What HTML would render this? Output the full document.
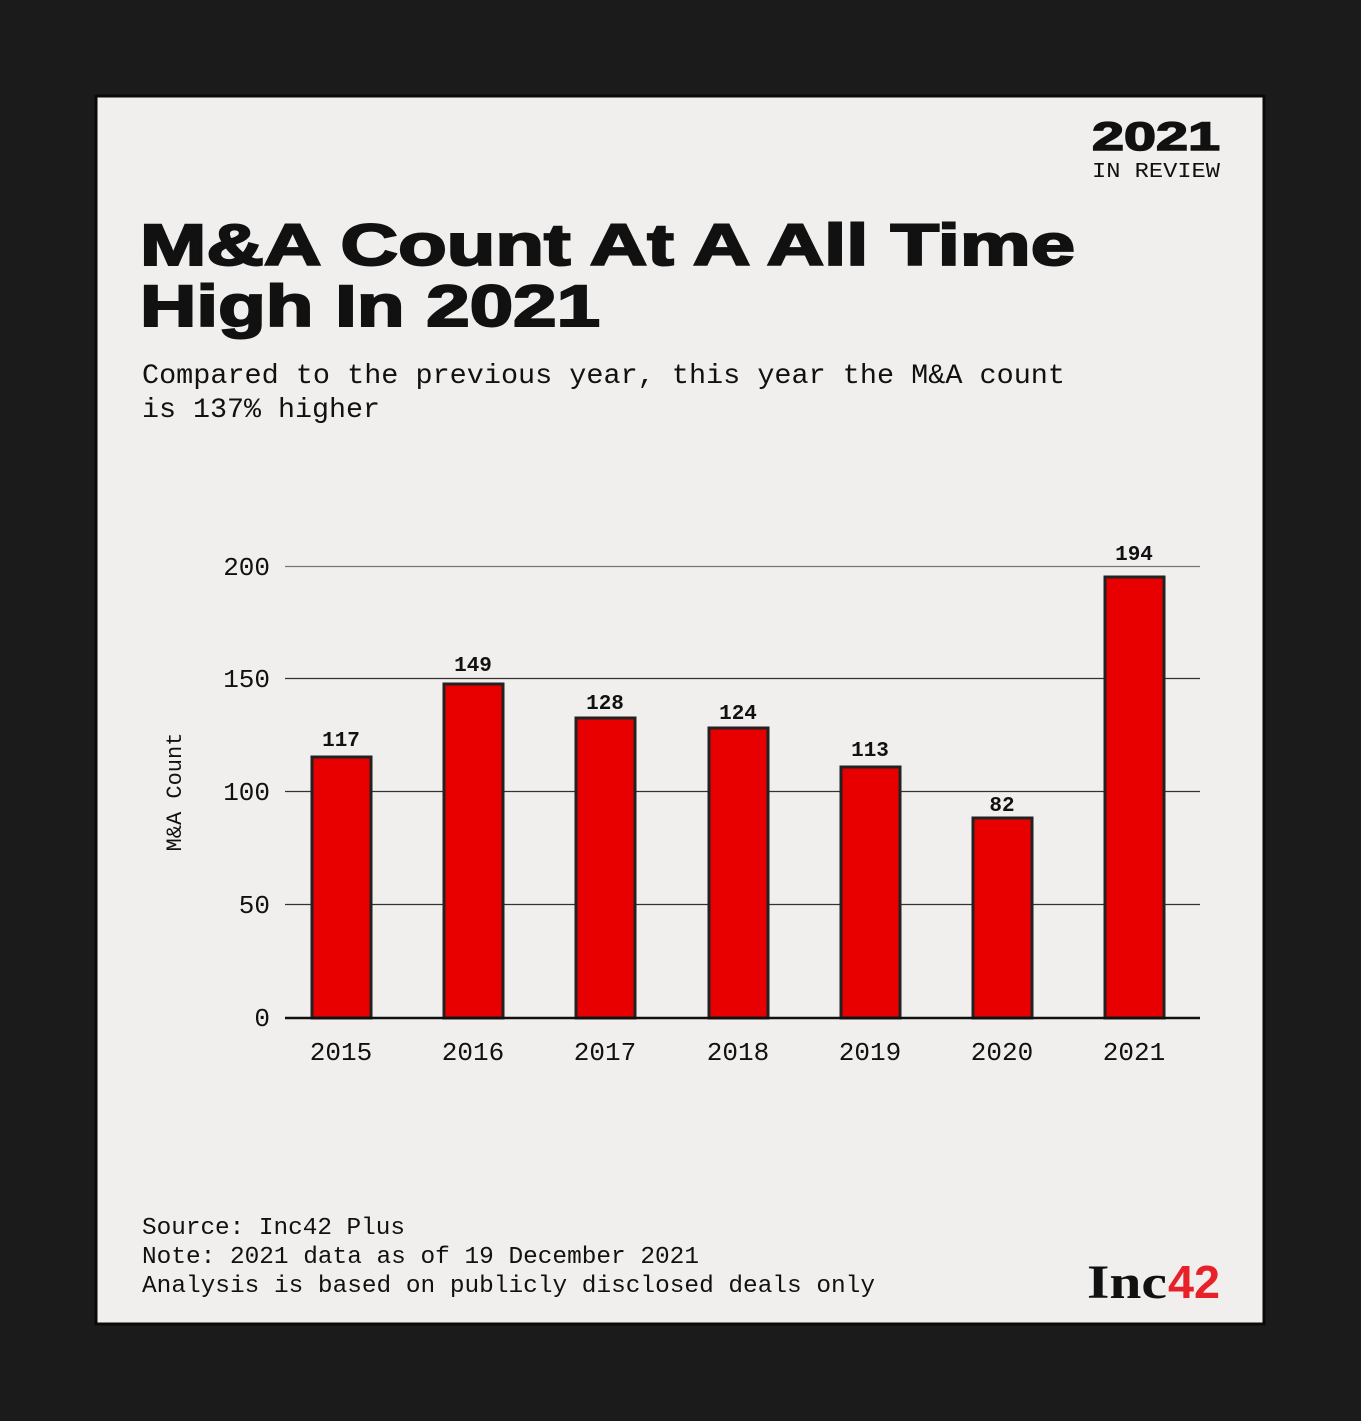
<!DOCTYPE html>
<html><head><style>html,body{margin:0;padding:0;background:#1b1b1b;}svg{display:block}</style></head>
<body>
<svg width="1361" height="1421" xmlns="http://www.w3.org/2000/svg">
<rect width="1361" height="1421" fill="#1b1b1b"/>
<rect x="96" y="96" width="1168" height="1228" fill="#f0efee" stroke="#0a0a0a" stroke-width="3"/>
<g font-family="Liberation Sans, sans-serif" font-weight="bold" fill="#111">
<text x="1092" y="150" font-size="40" textLength="128" lengthAdjust="spacingAndGlyphs" stroke="#111" stroke-width="1.5">2021</text>
<text x="140" y="265" font-size="58" textLength="935" lengthAdjust="spacingAndGlyphs" stroke="#111" stroke-width="2">M&amp;A Count At A All Time</text>
<text x="140" y="326" font-size="58" textLength="460" lengthAdjust="spacingAndGlyphs" stroke="#111" stroke-width="2">High In 2021</text>
</g>
<g font-family="Liberation Mono, monospace" fill="#111">
<text x="1092" y="177" font-size="21" textLength="128" lengthAdjust="spacingAndGlyphs">IN REVIEW</text>
<text x="142" y="383" font-size="28" textLength="923" lengthAdjust="spacingAndGlyphs">Compared to the previous year, this year the M&amp;A count</text>
<text x="142" y="417" font-size="28" textLength="238" lengthAdjust="spacingAndGlyphs">is 137% higher</text>
<text x="142" y="1234" font-size="24" textLength="263" lengthAdjust="spacingAndGlyphs">Source: Inc42 Plus</text>
<text x="142" y="1263" font-size="24" textLength="557" lengthAdjust="spacingAndGlyphs">Note: 2021 data as of 19 December 2021</text>
<text x="142" y="1292" font-size="24" textLength="733" lengthAdjust="spacingAndGlyphs">Analysis is based on publicly disclosed deals only</text>
</g>
<g stroke="#333" stroke-width="1.2">
<line x1="285" y1="566.5" x2="1200" y2="566.5" stroke="#777"/>
<line x1="285" y1="678.5" x2="1200" y2="678.5"/>
<line x1="285" y1="791.5" x2="1200" y2="791.5"/>
<line x1="285" y1="904.5" x2="1200" y2="904.5"/>
</g>
<g font-family="Liberation Mono, monospace" font-size="26" fill="#111" text-anchor="end">
<text x="270" y="575">200</text><text x="270" y="687">150</text><text x="270" y="800">100</text><text x="270" y="913">50</text><text x="270" y="1026">0</text>
</g>
<text transform="translate(181,792) rotate(-90)" font-family="Liberation Mono, monospace" font-size="22" fill="#111" text-anchor="middle">M&amp;A Count</text>
<g fill="#e80000" stroke="#222" stroke-width="3">
<rect x="312" y="757" width="59" height="261"/>
<rect x="444" y="684" width="59" height="334"/>
<rect x="576" y="718" width="59" height="300"/>
<rect x="709" y="728" width="59" height="290"/>
<rect x="841" y="767" width="59" height="251"/>
<rect x="973" y="818" width="59" height="200"/>
<rect x="1105" y="577" width="59" height="441"/>
</g>
<line x1="285" y1="1018" x2="1200" y2="1018" stroke="#111" stroke-width="2.5"/>
<g font-family="Liberation Mono, monospace" font-size="21" font-weight="bold" fill="#111" text-anchor="middle">
<text x="341" y="746">117</text><text x="473" y="671">149</text><text x="605" y="709">128</text><text x="738" y="719">124</text><text x="870" y="756">113</text><text x="1002" y="811">82</text><text x="1134" y="560">194</text>
</g>
<g font-family="Liberation Mono, monospace" font-size="26" fill="#111" text-anchor="middle">
<text x="341" y="1060">2015</text><text x="473" y="1060">2016</text><text x="605" y="1060">2017</text><text x="738" y="1060">2018</text><text x="870" y="1060">2019</text><text x="1002" y="1060">2020</text><text x="1134" y="1060">2021</text>
</g>
<text x="1087" y="1298" font-family="Liberation Serif, serif" font-weight="bold" font-size="48" fill="#111" textLength="80" lengthAdjust="spacingAndGlyphs">Inc</text>
<text x="1168" y="1298" font-family="Liberation Sans, sans-serif" font-weight="bold" font-size="46" fill="#e8202a" textLength="52" lengthAdjust="spacingAndGlyphs">42</text>
</svg>
</body></html>
